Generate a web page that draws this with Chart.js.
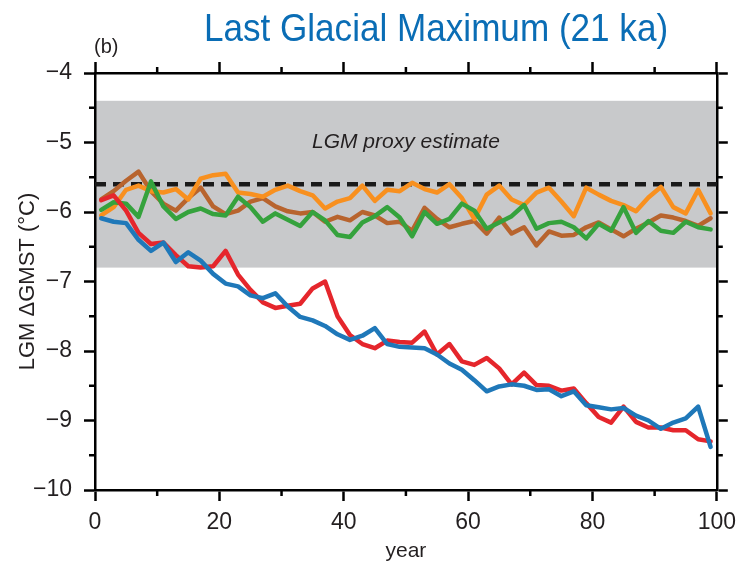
<!DOCTYPE html>
<html>
<head>
<meta charset="utf-8">
<script src="https://cdn.jsdelivr.net/npm/chart.js@4.4.1/dist/chart.umd.min.js"></script>
<style>
  html, body { margin: 0; padding: 0; background: #fff; }
  #wrap { width: 744px; height: 564px; }
</style>
</head>
<body>
<div id="wrap"><canvas id="lgmChart" width="744" height="564"></canvas></div>
<script>
// years (every second year of the 100-year run)
const years = [1, 3, 5, 7, 9, 11, 13, 15, 17, 19,
  21, 23, 25, 27, 29, 31, 33, 35, 37, 39,
  41, 43, 45, 47, 49, 51, 53, 55, 57, 59,
  61, 63, 65, 67, 69, 71, 73, 75, 77, 79,
  81, 83, 85, 87, 89, 91, 93, 95, 97, 99];

const redValues = [-5.83, -5.76, -5.98, -6.30, -6.46, -6.44, -6.62, -6.78, -6.80, -6.78,
  -6.56, -6.90, -7.12, -7.30, -7.38, -7.35, -7.32, -7.10, -7.00, -7.50,
  -7.77, -7.90, -7.96, -7.85, -7.87, -7.88, -7.72, -8.05, -7.90, -8.15,
  -8.20, -8.10, -8.25, -8.48, -8.31, -8.49, -8.50, -8.57, -8.54, -8.75,
  -8.95, -9.03, -8.80, -9.02, -9.10, -9.10, -9.14, -9.14, -9.27, -9.30];

const blueValues = [-6.09, -6.14, -6.16, -6.40, -6.56, -6.44, -6.72, -6.58, -6.70, -6.89,
  -7.03, -7.07, -7.20, -7.24, -7.17, -7.36, -7.51, -7.56, -7.64, -7.76,
  -7.84, -7.78, -7.67, -7.90, -7.94, -7.95, -7.96, -8.05, -8.18, -8.27,
  -8.42, -8.58, -8.51, -8.48, -8.50, -8.56, -8.55, -8.65, -8.58, -8.78,
  -8.81, -8.84, -8.82, -8.93, -9.00, -9.12, -9.03, -8.97, -8.80, -9.38];

const greenValues = [-5.97, -5.86, -5.88, -6.07, -5.56, -5.92, -6.10, -6.00, -5.95, -6.03,
  -6.05, -5.78, -5.93, -6.14, -6.02, -6.11, -6.20, -6.00, -6.12, -6.33,
  -6.36, -6.15, -6.06, -5.93, -6.08, -6.35, -6.00, -6.17, -6.10, -5.88,
  -5.98, -6.24, -6.15, -6.06, -5.90, -6.24, -6.16, -6.14, -6.22, -6.38,
  -6.17, -6.27, -5.93, -6.30, -6.13, -6.27, -6.30, -6.14, -6.22, -6.25];

const orangeValues = [-6.05, -5.93, -5.68, -5.62, -5.70, -5.72, -5.67, -5.82, -5.52, -5.47,
  -5.45, -5.72, -5.74, -5.78, -5.68, -5.62, -5.70, -5.76, -5.95, -5.85,
  -5.80, -5.62, -5.84, -5.68, -5.70, -5.58, -5.67, -5.72, -5.60, -5.80,
  -6.10, -5.75, -5.62, -5.82, -5.90, -5.72, -5.65, -5.85, -6.06, -5.65,
  -5.75, -5.84, -5.90, -5.99, -5.79, -5.64, -5.93, -6.02, -5.68, -6.02];

const brownValues = [-5.82, -5.70, -5.55, -5.42, -5.70, -5.88, -5.98, -5.80, -5.65, -5.92,
  -6.03, -5.98, -5.85, -5.80, -5.92, -5.99, -6.02, -6.00, -6.14, -6.07,
  -6.12, -6.00, -6.05, -6.16, -6.14, -6.27, -5.94, -6.10, -6.22, -6.17,
  -6.13, -6.31, -6.08, -6.31, -6.22, -6.48, -6.28, -6.34, -6.33, -6.22,
  -6.15, -6.25, -6.35, -6.24, -6.15, -6.05, -6.08, -6.13, -6.20, -6.09];

// proxy range (grey band) and central estimate (dashed line)
const proxyHigh = -4.4;
const proxyLow = -6.8;
const proxyCentral = -5.6;
const proxyLabelAt = -5.0;

const xTicks = [0, 20, 40, 60, 80, 100];
const xMinorTicks = [10, 30, 50, 70, 90];
const yTicks = [-10, -9, -8, -7, -6, -5, -4];
const yMinorTicks = [-9.5, -8.5, -7.5, -6.5, -5.5, -4.5];

const FONT = "'Liberation Sans', Arial, Helvetica, sans-serif";
const INK = '#231f20';
const MAJOR = 11;
const MINOR = 6;
const FRAME_W = 2.5;

function toPoints(values) {
  return values.map((v, i) => ({ x: years[i], y: v }));
}

function minusLabel(v) {
  return v < 0 ? '\u2212' + Math.abs(v) : String(v);
}

const frameExtras = {
  id: 'frameExtras',
  beforeDraw(chart) {
    const { ctx, chartArea: a, scales: { y } } = chart;
    const top = y.getPixelForValue(proxyHigh);
    const bot = y.getPixelForValue(proxyLow);
    ctx.save();
    ctx.fillStyle = '#c8c9cb';
    ctx.fillRect(a.left, top, a.right - a.left, bot - top);
    ctx.restore();
  },
  beforeDatasetsDraw(chart) {
    const { ctx, chartArea: a, scales: { y } } = chart;
    const yc = y.getPixelForValue(proxyCentral);
    ctx.save();
    ctx.strokeStyle = '#1a1a1a';
    ctx.lineWidth = 4.5;
    ctx.setLineDash([11, 7]);
    ctx.beginPath();
    ctx.moveTo(a.left, yc);
    ctx.lineTo(a.right, yc);
    ctx.stroke();
    ctx.setLineDash([]);
    ctx.fillStyle = INK;
    ctx.font = 'italic 21px ' + FONT;
    ctx.textAlign = 'center';
    ctx.textBaseline = 'middle';
    ctx.fillText('LGM proxy estimate', (a.left + a.right) / 2, y.getPixelForValue(proxyLabelAt));
    ctx.restore();
  },
  afterDraw(chart) {
    const { ctx, chartArea: a, scales: { x, y } } = chart;
    ctx.save();
    ctx.strokeStyle = '#000';
    ctx.lineWidth = FRAME_W;
    ctx.beginPath();
    // minor ticks, outward on all four sides
    yMinorTicks.forEach(v => {
      const py = y.getPixelForValue(v);
      ctx.moveTo(a.left - MINOR, py); ctx.lineTo(a.left, py);
      ctx.moveTo(a.right, py); ctx.lineTo(a.right + MINOR, py);
    });
    xMinorTicks.forEach(v => {
      const px = x.getPixelForValue(v);
      ctx.moveTo(px, a.bottom); ctx.lineTo(px, a.bottom + MINOR);
      ctx.moveTo(px, a.top - MINOR); ctx.lineTo(px, a.top);
    });
    ctx.stroke();

    // panel letter
    ctx.fillStyle = INK;
    ctx.font = '20px ' + FONT;
    ctx.textAlign = 'left';
    ctx.textBaseline = 'middle';
    ctx.fillText('(b)', a.left - 1, 47);

    // title, slightly condensed like the original typeface
    ctx.translate(436, 30);
    ctx.scale(0.9, 1);
    ctx.fillStyle = '#0a6db5';
    ctx.font = '39px ' + FONT;
    ctx.textAlign = 'center';
    ctx.fillText('Last Glacial Maximum (21 ka)', 0, 0);
    ctx.restore();
  }
};

const edgeGrid = {
  drawOnChartArea: false,
  drawTicks: true,
  tickLength: MAJOR,
  tickColor: '#000',
  tickWidth: FRAME_W
};
const edgeBorder = { display: true, color: '#000', width: FRAME_W };

new Chart(document.getElementById('lgmChart'), {
  type: 'line',
  data: {
    datasets: [
      { label: 'blue', data: toPoints(blueValues), borderColor: '#1f78b9' },
      { label: 'red', data: toPoints(redValues), borderColor: '#e5262c' },
      { label: 'green', data: toPoints(greenValues), borderColor: '#35a23d' },
      { label: 'orange', data: toPoints(orangeValues), borderColor: '#f8901f' },
      { label: 'brown', data: toPoints(brownValues), borderColor: '#b8642e' }
    ]
  },
  options: {
    responsive: false,
    animation: false,
    layout: { padding: { top: 62, left: 0, right: 0, bottom: 0 } },
    elements: {
      line: { borderWidth: 4.5, tension: 0, borderJoinStyle: 'round', borderCapStyle: 'round' },
      point: { radius: 0, hoverRadius: 0 }
    },
    plugins: {
      legend: { display: false },
      tooltip: { enabled: false },
      title: { display: false }
    },
    scales: {
      x: {
        type: 'linear',
        position: 'bottom',
        min: 0, max: 100,
        afterBuildTicks: s => { s.ticks = xTicks.map(v => ({ value: v })); },
        afterFit: s => { s.height = 74; },
        grid: edgeGrid,
        border: edgeBorder,
        ticks: { color: INK, font: { family: FONT, size: 23 }, padding: 8, maxRotation: 0 },
        title: { display: true, text: 'year', color: INK, font: { family: FONT, size: 21 }, padding: { top: 0, bottom: 0 } }
      },
      x2: {
        type: 'linear',
        position: 'top',
        min: 0, max: 100,
        afterBuildTicks: s => { s.ticks = xTicks.map(v => ({ value: v })); },
        grid: edgeGrid,
        border: edgeBorder,
        ticks: { display: false }
      },
      y: {
        type: 'linear',
        position: 'left',
        min: -10, max: -4,
        afterBuildTicks: s => { s.ticks = yTicks.map(v => ({ value: v })); },
        afterFit: s => { s.width = 95; },
        grid: edgeGrid,
        border: edgeBorder,
        ticks: { color: INK, font: { family: FONT, size: 23 }, padding: 12, callback: minusLabel },
        title: { display: true, text: 'LGM \u0394GMST (\u00b0C)', color: INK, font: { family: FONT, size: 22 }, padding: { top: 15, bottom: 0 } }
      },
      y2: {
        type: 'linear',
        position: 'right',
        min: -10, max: -4,
        afterBuildTicks: s => { s.ticks = yTicks.map(v => ({ value: v })); },
        afterFit: s => { s.width = 19; },
        grid: edgeGrid,
        border: edgeBorder,
        ticks: { display: false }
      }
    }
  },
  plugins: [frameExtras]
});
</script>
</body>
</html>
